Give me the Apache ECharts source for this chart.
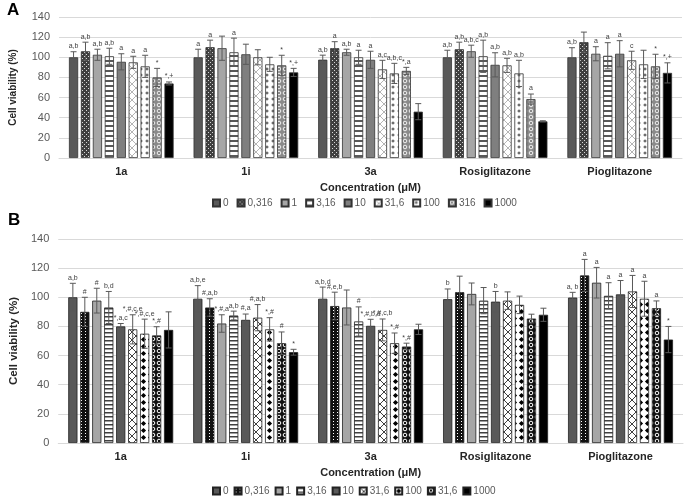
<!DOCTYPE html>
<html><head><meta charset="utf-8">
<script src="https://cdn.jsdelivr.net/npm/echarts/dist/echarts.min.js"></script>
<style>html,body{margin:0;padding:0;background:#fff}#c{width:685px;height:498px}</style>
</head><body><div id="c"></div>
<script>
const categories = ['1a', '1i', '3a', 'Rosiglitazone', 'Pioglitazone'];
const concA = ['0', '0,316', '1', '3,16', '10', '31,6', '100', '316', '1000'];
const concB = ['0', '0,316', '1', '3,16', '10', '31,6', '100', '31,6', '1000'];
const yTicks = [0, 20, 40, 60, 80, 100, 120, 140];

// Panel A: means / error (SD) per concentration, over categories
const A_0 = [100, 100, 97.6, 100, 100];        const eA_0 = [5.5, 8, 4.5, 7, 9.5];
const A_0316 = [106, 110, 109, 108, 115];      const eA_0316 = [9, 7, 6.5, 7, 10];
const A_1 = [102.5, 109, 105, 106, 103.5];     const eA_1 = [5.5, 12, 3, 6, 7];
const A_316a = [101, 105, 100, 101, 101.5];    const eA_316a = [8, 14, 7, 16, 13];
const A_10 = [95.5, 103, 97.5, 92.5, 103.5];   const eA_10 = [8, 10, 8.5, 12, 13];
const A_316b = [95, 100, 88, 92, 97];          const eA_316b = [6, 7.5, 9, 7, 9];
const A_100 = [91, 93, 84, 84, 93];            const eA_100 = [11, 7, 10, 13, 14];
const A_316 = [80, 92, 86.5, 58.5, 91];        const eA_316 = [9, 10, 3.5, 5, 12];
const A_1000 = [74, 85, 46, 36.4, 84.5];       const eA_1000 = [1.5, 4, 8, 0.6, 10];

const lA_0 = ['a,b', 'a', 'a,b', 'a,b', 'a,b'];
const lA_0316 = ['a,b', 'a', 'a', 'a,b', ''];
const lA_1 = ['a,b', '', 'a,b', 'a,b,c', 'a'];
const lA_316a = ['a,b', 'a', 'a', 'a,b', 'a'];
const lA_10 = ['a', '', 'a', 'a,b', 'a'];
const lA_316b = ['a', '', 'a,c', 'a,b', 'c'];
const lA_100 = ['a', '', 'a,b,c', 'a,b', ''];
const lA_316 = ['*', '*', '*,a', 'a', '*'];
const lA_1000 = ['*,+', '*,+', '', '', '*,+'];

// Panel B
const B_0 = [100, 99, 99, 98.7, 99.8];         const eB_0 = [9.6, 9, 8, 7, 3.6];
const B_0316 = [90, 93, 94, 103.5, 115];       const eB_0316 = [10, 6, 9.5, 11, 11];
const B_1 = [97.7, 82, 93, 102.3, 110];        const eB_1 = [8.5, 6, 12, 7.5, 10.5];
const B_316a = [93, 87.5, 83.4, 97.7, 101];    const eB_316a = [11, 3, 10, 9, 9];
const B_10 = [80, 84.5, 80.4, 97, 102];        const eB_10 = [2, 4, 4.5, 7, 9.5];
const B_316b = [78, 86, 77.6, 97.7, 104];      const eB_316b = [10, 9, 7.5, 6, 11];
const B_100 = [75, 78, 68.5, 94.8, 99];        const eB_100 = [10, 8, 7, 6, 12];
const B_316 = [73.8, 68.5, 66.2, 85.4, 92.5];  const eB_316 = [6, 7.7, 2.3, 3, 5];
const B_1000 = [77.6, 62.3, 78, 88, 71];       const eB_1000 = [12.4, 2, 3.5, 4.5, 9];

const lB_0 = ['a,b', 'a,b,e', 'a,b,d', 'b', 'a, b'];
const lB_0316 = ['#', '#,a,b', '#,e,b', '', 'a'];
const lB_1 = ['#', '*,#,a', '', '', 'a'];
const lB_316a = ['b,d', 'a,b', '#', '', 'a'];
const lB_10 = ['*,a,c', '#,a', '*,#,b,d', 'b', 'a'];
const lB_316b = ['*,#,c,e', '#,a,b', '*,#,c,b', '', 'a'];
const lB_100 = ['*,#,c,e', '*,#', '*,#', '', 'a'];
const lB_316 = ['*,#', '#', '*,#', '', 'a'];
const lB_1000 = ['', '*', '', '', '*'];

const meansA = [A_0, A_0316, A_1, A_316a, A_10, A_316b, A_100, A_316, A_1000];
const errsA = [eA_0, eA_0316, eA_1, eA_316a, eA_10, eA_316b, eA_100, eA_316, eA_1000];
const labsA = [lA_0, lA_0316, lA_1, lA_316a, lA_10, lA_316b, lA_100, lA_316, lA_1000];
const meansB = [B_0, B_0316, B_1, B_316a, B_10, B_316b, B_100, B_316, B_1000];
const errsB = [eB_0, eB_0316, eB_1, eB_316a, eB_10, eB_316b, eB_100, eB_316, eB_1000];
const labsB = [lB_0, lB_0316, lB_1, lB_316a, lB_10, lB_316b, lB_100, lB_316, lB_1000];

function pat(w, h, draw) {
  const c = document.createElement('canvas'); c.width = w; c.height = h;
  const g = c.getContext('2d'); draw(g, w, h);
  return { image: c, repeat: 'repeat' };
}
function bg(g, w, h, col) { g.fillStyle = col; g.fillRect(0, 0, w, h); }
function xhatch(col) {
  return pat(8, 8, (g, w, h) => { bg(g, w, h, '#fff'); g.strokeStyle = col; g.lineWidth = 1;
    g.beginPath(); g.moveTo(0, 0); g.lineTo(8, 8); g.moveTo(8, 0); g.lineTo(0, 8); g.stroke(); });
}
function diamonds(col, s, n) {
  return pat(n, n, (g, w, h) => { bg(g, w, h, '#fff'); g.fillStyle = col;
    const c = n / 2; g.beginPath(); g.moveTo(c, c - s); g.lineTo(c + s, c); g.lineTo(c, c + s); g.lineTo(c - s, c); g.closePath(); g.fill(); });
}
function bubbles(bgc, ring) {
  return pat(6, 6, (g, w, h) => { bg(g, w, h, bgc); g.strokeStyle = ring; g.lineWidth = 1;
    g.beginPath(); g.arc(3, 3, 1.8, 0, Math.PI * 2); g.stroke(); });
}
const patsA = [
  '#595959',
  pat(4, 4, (g, w, h) => { bg(g, w, h, '#3f3f3f'); g.fillStyle = '#d8d8d8'; g.fillRect(0, 0, 1, 1); g.fillRect(2, 2, 1, 1); }),
  '#a6a6a6',
  pat(1, 5, (g, w, h) => { bg(g, w, h, '#fff'); g.fillStyle = '#595959'; g.fillRect(0, 0, 1, 2); }),
  '#7f7f7f',
  xhatch('#b5b5b5'),
  diamonds('#6a6a6a', 1.8, 6),
  bubbles('#8a8a8a', '#f0f0f0'),
  '#000000'
];
const patsB = [
  '#595959',
  pat(4, 3, (g, w, h) => { bg(g, w, h, '#111'); g.fillStyle = '#fff'; g.fillRect(1, 1, 1, 1); }),
  '#a6a6a6',
  pat(1, 4, (g, w, h) => { bg(g, w, h, '#fff'); g.fillStyle = '#404040'; g.fillRect(0, 0, 1, 1.5); }),
  '#595959',
  xhatch('#404040'),
  diamonds('#000', 2.6, 7),
  bubbles('#111', '#fff'),
  '#000000'
];

const BG = 0.3, CG = 0.16;
function errRender(labels, n) {
  return function (params, api) {
    const ci = api.value(0), si = api.value(1), v = api.value(2), e = api.value(3);
    const W = api.size([1, 0])[0];
    const span = W * (1 - CG);
    const b = span / (n + (n - 1) * BG);
    const x = api.coord([ci, 0])[0] - span / 2 + b / 2 + si * b * (1 + BG);
    const yt = api.coord([ci, v + e])[1], yb = api.coord([ci, v - e])[1];
    const cap = 3, st = { stroke: '#595959', lineWidth: 1 };
    const ch = [
      { type: 'line', shape: { x1: x, y1: yt, x2: x, y2: yb }, style: st },
      { type: 'line', shape: { x1: x - cap, y1: yt, x2: x + cap, y2: yt }, style: st },
      { type: 'line', shape: { x1: x - cap, y1: yb, x2: x + cap, y2: yb }, style: st }
    ];
    const t = labels[si][ci];
    if (t) ch.push({ type: 'text', style: { text: t, x: x, y: yt - 2, align: 'center', verticalAlign: 'bottom',
      font: '7px "Liberation Sans", Arial', fill: '#404040' } });
    return { type: 'group', children: ch };
  };
}

const FONT = '"Liberation Sans", Arial, sans-serif';
const series = [];
const nameMap = {};
concA.forEach((c, i) => {
  const nm = 'A' + i; nameMap[nm] = c;
  series.push({ type: 'bar', name: nm, xAxisIndex: 0, yAxisIndex: 0, data: meansA[i],
    barGap: '30%', barCategoryGap: '16%',
    itemStyle: { color: patsA[i], borderColor: '#333', borderWidth: 0.8 } });
});
concB.forEach((c, i) => {
  const nm = 'B' + i; nameMap[nm] = c;
  series.push({ type: 'bar', name: nm, xAxisIndex: 1, yAxisIndex: 1, data: meansB[i],
    barGap: '30%', barCategoryGap: '16%',
    itemStyle: { color: patsB[i], borderColor: '#222', borderWidth: 0.8 } });
});
function errData(means, errs) {
  const d = [];
  means.forEach((row, si) => row.forEach((v, ci) => d.push([ci, si, v, errs[si][ci]])));
  return d;
}
series.push({ type: 'custom', xAxisIndex: 0, yAxisIndex: 0, z: 5, silent: true,
  renderItem: errRender(labsA, 9), encode: { x: 0, y: 2 }, data: errData(meansA, errsA) });
series.push({ type: 'custom', xAxisIndex: 1, yAxisIndex: 1, z: 5, silent: true,
  renderItem: errRender(labsB, 9), encode: { x: 0, y: 2 }, data: errData(meansB, errsB) });

function yAx(idx, fs, gap) {
  return { type: 'value', gridIndex: idx, min: yTicks[0], max: yTicks[yTicks.length - 1], interval: 20,
    name: 'Cell viability (%)', nameLocation: 'middle', nameGap: gap, nameRotate: 90,
    nameTextStyle: { fontFamily: FONT, fontWeight: 'bold', fontSize: fs, color: '#262626' },
    axisLabel: { fontFamily: FONT, fontSize: 11, color: '#595959', margin: 9 },
    axisLine: { show: false }, axisTick: { show: false },
    splitLine: { lineStyle: { color: '#d9d9d9', width: 1 } } };
}
function xAx(idx) {
  return { type: 'category', gridIndex: idx, data: categories,
    name: 'Concentration (\u03BCM)', nameLocation: 'middle', nameGap: 24,
    nameTextStyle: { fontFamily: FONT, fontWeight: 'bold', fontSize: 11, color: '#262626' },
    axisLabel: { fontFamily: FONT, fontWeight: 'bold', fontSize: 11, color: '#262626', margin: 8 },
    axisTick: { show: false }, axisLine: { lineStyle: { color: '#d9d9d9' } } };
}
function legend(prefix, n, left, top, gap) {
  const data = []; for (let i = 0; i < n; i++) data.push(prefix + i);
  return { data, left, top, padding: 0, orient: 'horizontal', itemWidth: 7, itemHeight: 7, itemGap: gap,
    icon: 'rect', formatter: (nm) => nameMap[nm],
    textStyle: { fontFamily: FONT, fontSize: 10, color: '#595959', padding: [0, 0, 0, -2] } };
}

const chart = echarts.init(document.getElementById('c'), null, { renderer: 'canvas' });
chart.setOption({
  animation: false,
  backgroundColor: '#fff',
  title: [
    { text: 'A', left: 2, top: -3, textStyle: { fontFamily: FONT, fontWeight: 'bold', fontSize: 17, color: '#000' } },
    { text: 'B', left: 3, top: 207, textStyle: { fontFamily: FONT, fontWeight: 'bold', fontSize: 17, color: '#000' } }
  ],
  grid: [
    { left: 58, right: 3, top: 17, bottom: 340 },
    { left: 51, right: 2, top: 239, bottom: 55 }
  ],
  xAxis: [xAx(0), xAx(1)],
  yAxis: [yAx(0, 10, 41), yAx(1, 11.5, 30)],
  legend: [legend('A', 9, 212, 198, 8), legend('B', 9, 212, 486, 5)],
  series
});
</script></body></html>
